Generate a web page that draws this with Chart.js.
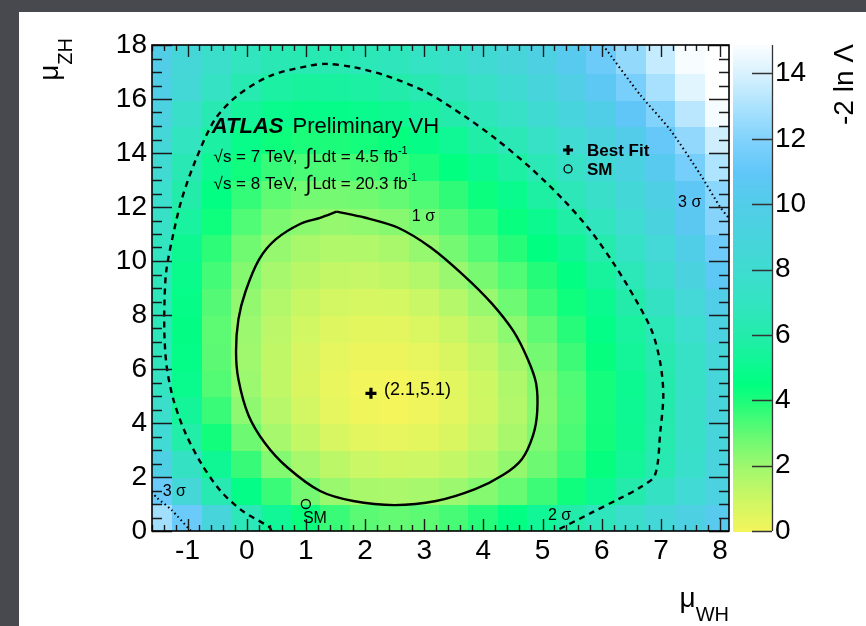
<!DOCTYPE html>
<html><head><meta charset="utf-8">
<script src="https://cdn.jsdelivr.net/npm/chart.js@4/dist/chart.umd.min.js"></script>
<style>
html,body{margin:0;padding:0;width:866px;height:626px;overflow:hidden;background:#47494e;}
#panel{position:absolute;left:19px;top:12px;width:847px;height:614px;background:#ffffff;}
#c{position:absolute;left:0;top:0;}
</style></head><body>
<div id="panel"></div>
<canvas id="c" width="866" height="626"></canvas>
<script>
// ---------- axis ticks ----------
const xTickValues = [-1, 0, 1, 2, 3, 4, 5, 6, 7, 8];
const yTickValues = [0, 2, 4, 6, 8, 10, 12, 14, 16, 18];
const zTickValues = [0, 2, 4, 6, 8, 10, 12, 14];

// ---------- -2 ln Lambda grid (cell centres) ----------
const xCenters = [-1.5, -1, -0.5, 0, 0.5, 1, 1.5, 2, 2.5, 3, 3.5, 4, 4.5, 5, 5.5, 6, 6.5, 7, 7.5, 8];
const yCenters = [0.5, 1.5, 2.5, 3.5, 4.5, 5.5, 6.5, 7.5, 8.5, 9.5, 10.5, 11.5, 12.5, 13.5, 14.5, 15.5, 16.5, 17.5];
const row_00_5 = [12.8, 11.3, 8.9, 6.6, 5.3, 4.3, 3.6, 3.15, 3.0, 3.1, 3.4, 3.9, 4.6, 5.3, 6.0, 6.8, 7.7, 8.6, 9.5, 10.4];
const row_01_5 = [11.3, 8.7, 6.4, 4.7, 3.6, 2.7, 2.1, 1.8, 1.75, 1.85, 2.07, 2.45, 2.95, 3.55, 4.25, 5.1, 6.1, 7.2, 8.3, 9.4];
const row_02_5 = [9.7, 7.2, 5.2, 3.65, 2.5, 1.84, 1.37, 1.08, 0.96, 1.0, 1.23, 1.63, 2.2, 2.85, 3.55, 4.4, 5.35, 6.35, 7.6, 9.1];
const row_03_5 = [8.3, 5.95, 4.2, 2.85, 1.85, 1.2, 0.73, 0.45, 0.36, 0.43, 0.7, 1.15, 1.8, 2.55, 3.35, 4.2, 5.15, 6.2, 7.5, 8.9];
const row_04_5 = [7.7, 5.4, 3.6, 2.3, 1.48, 0.84, 0.39, 0.13, 0.06, 0.16, 0.46, 0.94, 1.6, 2.42, 3.25, 4.15, 5.13, 6.1, 7.45, 8.95];
const row_05_5 = [7.1, 4.95, 3.25, 2.07, 1.3, 0.71, 0.3, 0.07, 0.03, 0.16, 0.47, 0.97, 1.65, 2.46, 3.28, 4.15, 5.1, 6.1, 7.35, 8.8];
const row_06_5 = [6.8, 4.7, 3.12, 2.0, 1.28, 0.74, 0.38, 0.2, 0.19, 0.36, 0.71, 1.23, 1.94, 2.74, 3.56, 4.4, 5.36, 6.3, 7.4, 8.7];
const row_07_5 = [6.6, 4.66, 3.1, 2.06, 1.39, 0.89, 0.57, 0.43, 0.46, 0.67, 1.05, 1.6, 2.34, 3.08, 3.88, 4.7, 5.6, 6.6, 7.8, 9.3];
const row_08_5 = [6.57, 4.76, 3.23, 2.21, 1.58, 1.12, 0.85, 0.75, 0.83, 1.09, 1.53, 2.14, 2.84, 3.55, 4.27, 5.03, 6.0, 7.2, 8.55, 10.0];
const row_09_5 = [6.75, 4.88, 3.47, 2.46, 1.84, 1.43, 1.2, 1.16, 1.29, 1.61, 2.11, 2.68, 3.28, 3.92, 4.62, 5.5, 6.6, 7.85, 9.25, 10.75];
const row_10_5 = [7.0, 5.15, 3.78, 2.82, 2.18, 1.8, 1.62, 1.62, 1.81, 2.19, 2.7, 3.27, 3.87, 4.5, 5.26, 6.15, 7.3, 8.55, 9.9, 11.45];
const row_11_5 = [7.45, 5.6, 4.27, 3.28, 2.63, 2.35, 2.16, 2.25, 2.43, 2.78, 3.23, 3.75, 4.38, 5.05, 5.88, 6.9, 8.05, 9.25, 10.65, 12.15];
const row_12_5 = [7.8, 6.0, 4.65, 3.68, 3.06, 2.77, 2.7, 2.8, 3.0, 3.3, 3.74, 4.3, 4.97, 5.76, 6.65, 7.57, 8.58, 9.7, 10.9, 12.24];
const row_13_5 = [8.2, 6.46, 5.15, 4.24, 3.65, 3.38, 3.35, 3.46, 3.68, 4.02, 4.48, 5.06, 5.76, 6.53, 7.4, 8.34, 9.34, 10.45, 11.7, 13.1];
const row_14_5 = [8.7, 7.0, 5.72, 4.83, 4.29, 4.05, 4.04, 4.16, 4.4, 4.76, 5.25, 5.86, 6.56, 7.32, 8.17, 9.1, 10.08, 11.2, 12.4, 13.8];
const row_15_5 = [9.4, 7.65, 6.35, 5.45, 4.95, 4.77, 4.78, 4.92, 5.19, 5.58, 6.09, 6.69, 7.37, 8.14, 8.99, 9.9, 10.94, 12.05, 13.35, 14.75];
const row_16_5 = [9.8, 8.5, 7.26, 6.26, 5.73, 5.55, 5.57, 5.73, 6.0, 6.38, 6.88, 7.46, 8.14, 8.91, 9.77, 10.7, 11.75, 12.95, 14.25, 15.0];
const row_17_5 = [10.0, 8.7, 7.7, 6.9, 6.45, 6.36, 6.41, 6.57, 6.82, 7.17, 7.63, 8.2, 8.86, 9.6, 10.45, 11.4, 12.45, 13.6, 14.8, 15.0];
const nllGrid = [row_00_5, row_01_5, row_02_5, row_03_5, row_04_5, row_05_5, row_06_5, row_07_5, row_08_5,
                 row_09_5, row_10_5, row_11_5, row_12_5, row_13_5, row_14_5, row_15_5, row_16_5, row_17_5];

// ---------- contours ----------
const sigma1X = [1.52, 1.24, 0.91, 0.49, 0.21, -0.02, -0.14, -0.18, -0.14, 0.03, 0.31, 0.68, 1.24, 1.80, 2.50, 3.20, 3.86, 4.33, 4.65, 4.84, 4.91, 4.89, 4.75, 4.51, 4.14, 3.67, 3.11, 2.55, 1.99, 1.52];
const sigma1Y = [11.83, 11.60, 11.38, 10.80, 10.06, 8.87, 7.84, 6.66, 5.62, 4.29, 3.25, 2.37, 1.48, 1.11, 0.96, 1.11, 1.55, 2.07, 2.66, 3.55, 4.44, 5.47, 6.36, 7.39, 8.43, 9.46, 10.50, 11.24, 11.61, 11.83];
const sigma2X = [0.42, 0.38, -0.07, -0.44, -0.77, -1.05, -1.24, -1.35, -1.39, -1.39, -1.36, -1.26, -1.10, -0.86, -0.54, -0.16, 0.40, 1.05, 1.34, 1.80, 2.36, 3.02, 3.67, 4.23, 4.79, 5.35, 5.82, 6.20, 6.57, 6.85, 6.99, 7.04, 6.99, 6.90, 6.66, 6.29, 5.82, 5.22];
const sigma2Y = [0.00, 0.15, 0.74, 1.48, 2.51, 3.70, 4.88, 6.06, 7.24, 8.43, 9.61, 10.80, 12.27, 13.75, 15.23, 16.12, 16.86, 17.23, 17.30, 17.18, 16.86, 16.27, 15.38, 14.49, 13.46, 12.27, 11.09, 9.91, 8.58, 7.39, 6.21, 5.03, 3.70, 2.07, 1.63, 1.19, 0.67, 0.00];
const sigma3aX = [6.02, 6.65, 7.16, 7.67, 8.00, 8.16];
const sigma3aY = [18.0, 16.15, 14.85, 13.19, 12.0, 11.55];
const sigma3bX = [-1.61, -1.51, -1.27, -0.96, -0.94];
const sigma3bY = [1.45, 1.22, 0.78, 0.04, 0.0];

// ---------- points ----------
const bestFit = [2.1, 5.1];
const smPoint = [1.0, 1.0];

// ---------- styling helpers ----------
const FONT = '"Liberation Sans", Arial, Helvetica, sans-serif';
const cmapStops = [
  [0, [245,245,90]], [1, [205,247,100]], [2, [160,248,110]], [3, [100,250,115]],
  [4, [30,252,122]], [4.5, [0,255,128]], [5, [10,250,142]], [6, [35,236,170]],
  [7, [50,228,192]], [8, [62,220,208]], [9, [72,212,220]], [10, [82,205,232]],
  [11, [96,198,248]], [12, [128,210,252]], [13, [170,226,253]], [14, [215,241,254]], [15, [255,255,255]]
];
function cmap(v) {
  if (v <= cmapStops[0][0]) return 'rgb(' + cmapStops[0][1].join(',') + ')';
  for (let i = 1; i < cmapStops.length; i++) {
    if (v <= cmapStops[i][0]) {
      const [a, ca] = cmapStops[i - 1], [b, cb] = cmapStops[i];
      const t = (v - a) / (b - a);
      return 'rgb(' + ca.map((c, k) => Math.round(c + (cb[k] - c) * t)).join(',') + ')';
    }
  }
  return 'rgb(255,255,255)';
}
const cellW = 0.5, cellH = 1.0;

const heatmap = {
  id: 'heatmap',
  beforeDatasetsDraw(chart) {
    const { ctx, chartArea: a, scales: { x, y } } = chart;
    ctx.save();
    ctx.beginPath(); ctx.rect(a.left, a.top, a.right - a.left, a.bottom - a.top); ctx.clip();
    yCenters.forEach((yc, i) => {
      const row = nllGrid[i];
      const py0 = Math.floor(y.getPixelForValue(yc + cellH / 2));
      const py1 = Math.ceil(y.getPixelForValue(yc - cellH / 2));
      xCenters.forEach((xc, j) => {
        const px0 = Math.floor(x.getPixelForValue(xc - cellW / 2));
        const px1 = Math.ceil(x.getPixelForValue(xc + cellW / 2));
        ctx.fillStyle = cmap(row[j]);
        ctx.fillRect(px0, py0, px1 - px0 + 1, py1 - py0 + 1);
      });
    });
    ctx.restore();
  }
};

function richLine(ctx, x0, y0, segs) {
  let cx = x0;
  segs.forEach(s => {
    ctx.font = s.f; cx += (s.pre || 0);
    ctx.fillText(s.t, cx, y0 + (s.dy || 0));
    cx += ctx.measureText(s.t).width;
  });
}

const decor = {
  id: 'decor',
  afterDatasetsDraw(chart) {
    const { ctx, chartArea: a, scales: { x, y, cb } } = chart;
    const P = (xv, yv) => [x.getPixelForValue(xv), y.getPixelForValue(yv)];
    ctx.save();
    // ticks (inside, all four sides)
    ctx.strokeStyle = '#1a1a1a'; ctx.lineWidth = 1.4;
    ctx.beginPath();
    for (let k = Math.ceil(x.min / 0.2); k * 0.2 <= x.max + 1e-9; k++) {
      const v = k * 0.2, major = Math.abs(v - Math.round(v)) < 1e-6;
      const px = Math.round(x.getPixelForValue(v)) + 0.5;
      const l = major ? 12 : 6;
      ctx.moveTo(px, a.bottom); ctx.lineTo(px, a.bottom - l);
      ctx.moveTo(px, a.top); ctx.lineTo(px, a.top + l);
    }
    for (let k = 0; k * 0.5 <= y.max + 1e-9; k++) {
      const v = k * 0.5, major = (k % 4) === 0;
      const py = Math.round(y.getPixelForValue(v)) + 0.5;
      const l = major ? 20 : 10;
      ctx.moveTo(a.left, py); ctx.lineTo(a.left + l, py);
      ctx.moveTo(a.right, py); ctx.lineTo(a.right - l, py);
    }
    ctx.stroke();
    // frame
    ctx.strokeStyle = '#000'; ctx.lineWidth = 1.6;
    ctx.strokeRect(a.left, a.top, a.right - a.left, a.bottom - a.top);

    // colour bar
    const bx0 = a.right + 4, bx1 = a.right + 43;
    for (let v = 0; v < cb.max; v += 0.05) {
      const y0 = cb.getPixelForValue(Math.min(v + 0.05, cb.max)), y1 = cb.getPixelForValue(v);
      ctx.fillStyle = cmap(v + 0.025);
      ctx.fillRect(bx0, Math.floor(y0), bx1 - bx0, Math.ceil(y1) - Math.floor(y0) + 1);
    }
    ctx.strokeStyle = '#333'; ctx.lineWidth = 1.3;
    ctx.beginPath();
    ctx.moveTo(bx1 + 0.5, cb.getPixelForValue(0)); ctx.lineTo(bx1 + 0.5, cb.getPixelForValue(cb.max));
    zTickValues.forEach(v => { const py = Math.round(cb.getPixelForValue(v)) + 0.5; ctx.moveTo(bx1, py); ctx.lineTo(bx1 - 20, py); });
    ctx.stroke();

    ctx.fillStyle = '#000';
    ctx.textBaseline = 'alphabetic';
    // colour bar title
    ctx.save(); ctx.translate(853, 44); ctx.rotate(-Math.PI / 2);
    ctx.textAlign = 'right'; ctx.font = '28px ' + FONT; ctx.fillText('-2 ln \u039B', 0, 0); ctx.restore();
    // y title mu_ZH
    ctx.save(); ctx.translate(58, 38); ctx.rotate(-Math.PI / 2);
    ctx.textAlign = 'right'; ctx.font = '20px ' + FONT; ctx.fillText('ZH', 0, 14);
    const wZH = ctx.measureText('ZH').width;
    ctx.font = '28px ' + FONT; ctx.fillText('\u03BC', -wZH, 0); ctx.restore();
    // x title mu_WH
    ctx.textAlign = 'right'; ctx.font = '20px ' + FONT; ctx.fillText('WH', a.right, 621);
    const wWH = ctx.measureText('WH').width;
    ctx.font = '28px ' + FONT; ctx.fillText('\u03BC', a.right - wWH, 607);

    ctx.textAlign = 'left';
    // ATLAS label
    let [tx, ty] = P(-0.59, 14.74);
    ctx.font = 'italic bold 22px ' + FONT; ctx.fillText('ATLAS', tx, ty);
    const wA = ctx.measureText('ATLAS').width;
    ctx.font = '22px ' + FONT; ctx.fillText('Preliminary VH', tx + wA + 9, ty);
    const f17 = '17px ' + FONT, fInt = '22px ' + FONT, fSup = '11px ' + FONT;
    [tx, ty] = P(-0.56, 13.67);
    richLine(ctx, tx, ty, [
      { t: '\u221As = 7 TeV,', f: f17 }, { t: '\u222B', f: fInt, pre: 8, dy: 2 },
      { t: 'Ldt = 4.5 fb', f: f17, pre: 1 }, { t: '-1', f: fSup, dy: -8 }
    ]);
    [tx, ty] = P(-0.56, 12.65);
    richLine(ctx, tx, ty, [
      { t: '\u221As = 8 TeV,', f: f17 }, { t: '\u222B', f: fInt, pre: 8, dy: 2 },
      { t: 'Ldt = 20.3 fb', f: f17, pre: 1 }, { t: '-1', f: fSup, dy: -8 }
    ]);
    // contour labels
    ctx.font = '16px ' + FONT;
    [[2.79, 11.48, '1 \u03C3'], [5.09, 0.41, '2 \u03C3'], [7.29, 12.0, '3 \u03C3'], [-1.42, 1.30, '3 \u03C3']].forEach(([xv, yv, s]) => {
      const [qx, qy] = P(xv, yv); ctx.fillText(s, qx, qy);
    });
    // point labels
    [tx, ty] = P(2.32, 5.04); ctx.font = '18px ' + FONT; ctx.fillText('(2.1,5.1)', tx, ty);
    [tx, ty] = P(0.95, 0.30); ctx.font = '16px ' + FONT; ctx.fillText('SM', tx, ty);
    // legend
    let [lx, ly] = P(5.43, 14.11);
    ctx.strokeStyle = '#000'; ctx.lineWidth = 3;
    ctx.beginPath(); ctx.moveTo(lx - 5, ly); ctx.lineTo(lx + 5, ly); ctx.moveTo(lx, ly - 5); ctx.lineTo(lx, ly + 5); ctx.stroke();
    [lx, ly] = P(5.43, 13.41);
    ctx.lineWidth = 1.3; ctx.beginPath(); ctx.arc(lx, ly, 4, 0, Math.PI * 2); ctx.stroke();
    ctx.font = 'bold 17px ' + FONT;
    [tx, ty] = P(5.75, 13.89); ctx.fillText('Best Fit', tx, ty);
    [tx, ty] = P(5.75, 13.19); ctx.fillText('SM', tx, ty);
    ctx.restore();
  }
};

const lineDs = (label, xs, ys, extra) => Object.assign({
  label, data: xs.map((v, i) => ({ x: v, y: ys[i] })), showLine: true, fill: false,
  borderColor: '#000', borderWidth: 2.4, pointRadius: 0, tension: 0.3
}, extra);

const tickFont = { family: FONT, size: 28 };
new Chart(document.getElementById('c'), {
  type: 'scatter',
  data: {
    datasets: [
      lineDs('1 sigma', sigma1X, sigma1Y, {}),
      lineDs('2 sigma', sigma2X, sigma2Y, { borderDash: [6, 5] }),
      lineDs('3 sigma a', sigma3aX, sigma3aY, { borderDash: [1.5, 3], borderWidth: 2, tension: 0.2 }),
      lineDs('3 sigma b', sigma3bX, sigma3bY, { borderDash: [1.5, 3], borderWidth: 2, tension: 0.2 }),
      { label: 'Best Fit', data: [{ x: bestFit[0], y: bestFit[1] }], pointStyle: 'cross', pointRadius: 5.5,
        borderWidth: 3.2, borderColor: '#000', backgroundColor: '#000' },
      { label: 'SM', data: [{ x: smPoint[0], y: smPoint[1] }], pointStyle: 'circle', pointRadius: 4.5,
        borderWidth: 1.3, borderColor: '#000', backgroundColor: 'rgba(0,0,0,0)' }
    ]
  },
  options: {
    responsive: false, animation: false, devicePixelRatio: 1,
    layout: { padding: { top: 45, left: 0, right: 0, bottom: 0 } },
    plugins: { legend: { display: false }, tooltip: { enabled: false } },
    scales: {
      x: {
        type: 'linear', position: 'bottom', min: -1.6, max: 8.15,
        afterBuildTicks: s => { s.ticks = xTickValues.map(v => ({ value: v })); },
        afterFit: s => { s.height = 95; s.paddingLeft = 0; s.paddingRight = 0; },
        grid: { display: false, drawTicks: false }, border: { display: false },
        ticks: { font: tickFont, color: '#000', padding: 3, maxRotation: 0, autoSkip: false, callback: v => String(v) }
      },
      y: {
        type: 'linear', position: 'left', min: 0, max: 18,
        afterBuildTicks: s => { s.ticks = yTickValues.map(v => ({ value: v })); },
        afterFit: s => { s.width = 152; s.paddingTop = 0; s.paddingBottom = 0; },
        grid: { display: false, drawTicks: false }, border: { display: false },
        ticks: { font: tickFont, color: '#000', padding: 5, autoSkip: false, callback: v => String(v) }
      },
      cb: {
        type: 'linear', position: 'right', min: 0, max: 14.87,
        afterBuildTicks: s => { s.ticks = zTickValues.map(v => ({ value: v })); },
        afterFit: s => { s.width = 137; s.paddingTop = 0; s.paddingBottom = 0; },
        grid: { display: false, drawTicks: false }, border: { display: false },
        ticks: { font: tickFont, color: '#000', padding: 46, autoSkip: false, callback: v => String(v) }
      }
    }
  },
  plugins: [heatmap, decor]
});
</script></body></html>
